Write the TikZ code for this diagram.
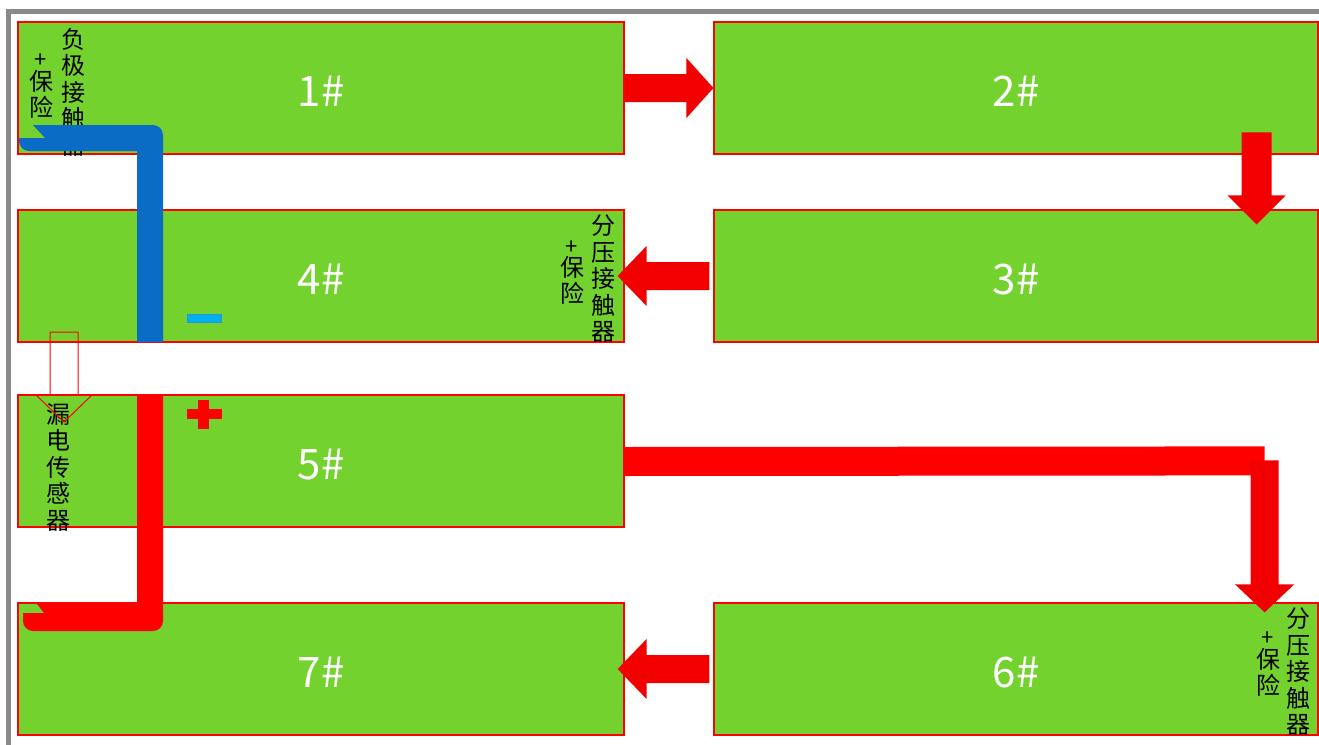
\documentclass[tikz,border=0pt]{standalone}
\usepackage{fontspec}
\newfontfamily\cjk{Noto Sans CJK SC}
\usetikzlibrary{calc}
\definecolor{boxgreen}{RGB}{116,210,46}
\definecolor{boxred}{RGB}{255,0,0}
\definecolor{arrowred}{RGB}{242,0,0}
\definecolor{cableblue}{RGB}{10,108,196}
\definecolor{framegray}{RGB}{137,137,137}
\definecolor{minuscyan}{RGB}{0,176,240}
\definecolor{minusedge}{RGB}{40,150,210}
\begin{document}
\begin{tikzpicture}[x=1pt,y=-1pt,
  box/.style={draw=boxred, line width=1.2pt, fill=boxgreen, minimum width=606pt, minimum height=132pt, inner sep=0pt, text height=37pt, text depth=0pt, text=white, font=\cjk\fontsize{42}{42}\selectfont},
  vlab/.style={inner sep=0pt, anchor=north, align=center, font=\cjk\fontsize{24}{26.5}\selectfont},
  pluslab/.style={inner sep=0pt, font=\cjk\fontsize{22}{22}\selectfont},
  arr/.style={fill=arrowred}]
\useasboundingbox (0,0) rectangle (1319,744);
\fill[white] (0,0) rectangle (1319,744);
% frame
\draw[framegray, line width=5pt] (8.5,760) -- (8.5,11.5) -- (1340,11.5);
% boxes
\node[box] (b1) at (321,88) {1\#};
\node[box, minimum width=604pt] (b2) at (1016,88) {2\#};
\node[box, minimum width=604pt] (b3) at (1016,276) {3\#};
\node[box] (b4) at (321,276) {4\#};
\node[box] (b5) at (321,461) {5\#};
\node[box, minimum width=604pt] (b6) at (1016,669) {6\#};
\node[box] (b7) at (321,669) {7\#};
% labels
\node[vlab] (l1) at (73,28) {负\\极\\接\\触\\器};
\node[pluslab] (p1) at (41,61) {+};
\node[vlab] (f1) at (41,70) {保\\险};
\node[vlab] (l4) at (603,215) {分\\压\\接\\触\\器};
\node[pluslab] (p4) at (572,248) {+};
\node[vlab] (f4) at (572,256) {保\\险};
\node[vlab] (l6) at (1298,608) {分\\压\\接\\触\\器};
\node[pluslab] (p6) at (1268,639) {+};
\node[vlab] (f6) at (1268,648) {保\\险};
\node[vlab] (l5) at (58,403) {漏\\电\\传\\感\\器};
% arrow 1 -> 2
\fill[arr] ($(b1.east)+(0,-14)$) -- ($(b2.west)+(-27,-14)$) -- ($(b2.west)+(-27,-30)$) -- (b2.west)
  -- ($(b2.west)+(-27,30)$) -- ($(b2.west)+(-27,14)$) -- ($(b1.east)+(0,14)$) -- cycle;
% arrow 2 -> 3
\coordinate (t23) at ($(b3.north east)+(-62,15)$);
\fill[arr] ($(t23)+(-15,-92)$) -- ($(t23)+(15,-92)$) -- ($(t23)+(15,-29)$) -- ($(t23)+(29,-29)$)
  -- (t23) -- ($(t23)+(-29,-29)$) -- ($(t23)+(-15,-29)$) -- cycle;
% arrow 3 -> 4
\coordinate (t34) at ($(b4.east)+(-7,0)$);
\fill[arr] ($(b3.west)+(-4,-14)$) -- ($(t34)+(29,-14)$) -- ($(t34)+(29,-30)$) -- (t34)
  -- ($(t34)+(29,30)$) -- ($(t34)+(29,14)$) -- ($(b3.west)+(-4,14)$) -- cycle;
% arrow 6 -> 7
\coordinate (t67) at ($(b7.east)+(-7,0)$);
\fill[arr] ($(b6.west)+(-4,-14)$) -- ($(t67)+(29,-14)$) -- ($(t67)+(29,-30)$) -- (t67)
  -- ($(t67)+(29,30)$) -- ($(t67)+(29,14)$) -- ($(b6.west)+(-4,14)$) -- cycle;
% arrow 5 -> 6
\coordinate (t56) at ($(b6.north east)+(-54,10)$);
\fill[boxred] ($(b5.east)+(0,-14)$) -- ($(t56)+(0,-166)$) -- ($(t56)+(0,-137)$) -- ($(b5.east)+(0,15)$) -- cycle;
\fill[arr] ($(t56)+(-14,-152)$) -- ($(t56)+(14,-152)$) -- ($(t56)+(14,-28)$) -- ($(t56)+(29.5,-28)$)
  -- (t56) -- ($(t56)+(-29.5,-28)$) -- ($(t56)+(-14,-28)$) -- cycle;
% leakage sensor arrow
\draw[boxred, line width=1pt] (50,332) -- (78,332) -- (78,395) -- (92,395) -- (64,422) -- (36,395) -- (50,395) -- cycle;
% negative cable
\fill[cableblue] (33,125) -- (153,125) arc[start angle=-90, end angle=0, radius=10] -- (163,342) -- (137,342)
  -- (137,151) -- (29,151) arc[start angle=90, end angle=180, radius=10] -- (19,138) -- (45,138) -- cycle;
% positive cable
\fill[boxred] (137,395) -- (163,395) -- (163,621) arc[start angle=0, end angle=90, radius=10] -- (33,631)
  arc[start angle=90, end angle=180, radius=10] -- (23,613) -- (44,613) -- (37,604) -- (137,604) -- cycle;
% signs
\filldraw[fill=minuscyan, draw=minusedge, line width=0.8pt] (187,314) rectangle (221,322);
\fill[boxred] (187,409) rectangle (222,419);
\fill[boxred] (198,400) rectangle (209,429);
\end{tikzpicture}
\end{document}
